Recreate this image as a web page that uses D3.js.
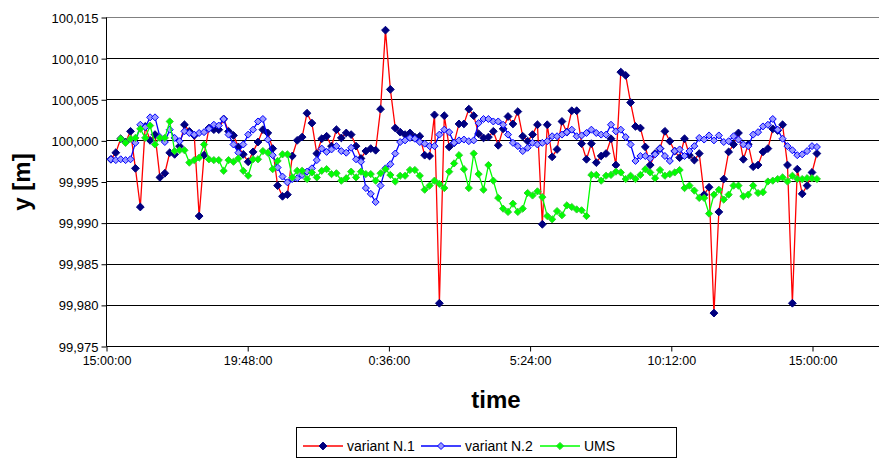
<!DOCTYPE html>
<html>
<head>
<meta charset="utf-8">
<script src="https://cdn.jsdelivr.net/npm/d3@7"></script>
<style>
  html, body { margin: 0; padding: 0; background: #fff; }
  svg { display: block; font-family: Arial, "Liberation Sans", sans-serif; }
</style>
</head>
<body>
<div id="chart"></div>
<script>
// Sampling: one reading every 10 minutes, starting 15:10
const SAMPLE_START = '15:10';
const SAMPLE_STEP_MIN = 10;

const Y_TICKS = [99.975, 99.980, 99.985, 99.990, 99.995, 100.000, 100.005, 100.010, 100.015];
const X_TICK_LABELS = ['15:00:00', '19:48:00', '0:36:00', '5:24:00', '10:12:00', '15:00:00'];

const variantN1 = [
  99.9977, 99.9985, 100.0002, 99.9998, 100.0011, 99.9966, 99.9919, 100.0017, 100.0000, 100.0007,
  99.9955, 99.9960, 99.9985, 99.9983, 99.9993, 100.0019, 100.0011, 100.0006, 99.9908, 99.9982,
  100.0015, 100.0013, 100.0013, 100.0026, 100.0011, 100.0006, 99.9992, 99.9983, 99.9974, 99.9986,
  99.9998, 100.0013, 100.0009, 99.9990, 99.9945, 99.9932, 99.9934, 99.9981, 100.0000, 100.0004,
  100.0033, 100.0021, 99.9984, 100.0002, 100.0005, 99.9993, 100.0013, 100.0003, 100.0009, 100.0007,
  99.9993, 99.9978, 99.9987, 99.9990, 99.9988, 100.0038, 100.0134, 100.0062, 100.0015, 100.0010,
  100.0007, 100.0009, 100.0004, 100.0005, 99.9982, 99.9981, 100.0031, 99.9802, 100.0030, 99.9992,
  99.9997, 100.0020, 100.0020, 100.0038, 100.0030, 100.0008, 100.0003, 100.0004, 100.0011, 99.9994,
  100.0014, 100.0029, 100.0020, 100.0035, 100.0005, 99.9999, 100.0007, 100.0019, 99.9898, 100.0019,
  99.9980, 99.9989, 100.0023, 100.0010, 100.0036, 100.0036, 99.9996, 99.9977, 99.9996, 99.9973,
  99.9981, 99.9984, 100.0002, 99.9970, 100.0083, 100.0079, 100.0046, 100.0017, 100.0015, 99.9992,
  99.9970, 99.9984, 99.9990, 100.0011, 99.9999, 99.9987, 99.9979, 100.0002, 99.9982, 99.9976,
  99.9984, 99.9934, 99.9943, 99.9790, 99.9913, 99.9953, 99.9986, 99.9995, 100.0009, 99.9977,
  99.9995, 99.9968, 99.9970, 99.9986, 99.9990, 100.0014, 100.0012, 100.0019, 99.9970, 99.9802,
  99.9965, 99.9935, 99.9945, 99.9961, 99.9984
];

const variantN2 = [
  99.9977, 99.9976, 99.9977, 99.9976, 99.9977, 99.9997, 100.0019, 100.0016, 100.0028, 100.0028,
  100.0004, 99.9998, 100.0013, 100.0003, 99.9999, 100.0011, 100.0009, 100.0007, 100.0009, 100.0010,
  100.0014, 100.0019, 100.0018, 100.0026, 100.0007, 99.9995, 99.9985, 99.9995, 100.0007, 100.0013,
  100.0023, 100.0026, 100.0001, 99.9982, 99.9967, 99.9956, 99.9949, 99.9953, 99.9954, 99.9958,
  99.9962, 99.9966, 99.9976, 99.9990, 99.9986, 99.9989, 99.9993, 99.9987, 99.9985, 99.9991,
  99.9977, 99.9974, 99.9942, 99.9935, 99.9925, 99.9945, 99.9966, 99.9971, 99.9984, 99.9998,
  100.0000, 100.0003, 100.0002, 99.9998, 99.9996, 99.9993, 99.9993, 100.0007, 100.0013, 100.0010,
  99.9997, 100.0000, 100.0001, 99.9999, 100.0000, 100.0021, 100.0026, 100.0026, 100.0023, 100.0023,
  100.0019, 100.0007, 99.9997, 99.9993, 99.9987, 99.9991, 99.9997, 99.9995, 99.9997, 99.9999,
  100.0005, 100.0005, 100.0007, 100.0010, 100.0013, 100.0005, 100.0006, 100.0009, 100.0013, 100.0009,
  100.0007, 100.0007, 100.0019, 100.0011, 100.0013, 100.0004, 99.9995, 99.9975, 99.9981, 99.9981,
  99.9978, 99.9983, 99.9990, 99.9981, 99.9975, 99.9987, 99.9989, 99.9981, 99.9987, 99.9993,
  100.0003, 100.0001, 100.0006, 100.0000, 100.0006, 99.9998, 99.9999, 100.0005, 100.0001, 99.9995,
  99.9993, 100.0007, 100.0010, 100.0017, 100.0019, 100.0026, 100.0013, 100.0002, 99.9993, 99.9988,
  99.9982, 99.9983, 99.9987, 99.9993, 99.9992
];

const ums = [
  null, null, 100.0002, 99.9997, 100.0002, 100.0003, 100.0014, 100.0003, 100.0018, 99.9995,
  100.0003, 100.0003, 100.0023, 99.9987, 99.9988, 99.9988, 99.9973, 99.9976, 99.9979, 99.9995,
  99.9977, 99.9976, 99.9976, 99.9963, 99.9976, 99.9974, 99.9978, 99.9963, 99.9957, 99.9977,
  99.9977, 99.9987, 99.9985, 99.9965, 99.9975, 99.9983, 99.9983, 99.9955, 99.9963, 99.9963,
  99.9953, 99.9961, 99.9955, 99.9963, 99.9965, 99.9959, 99.9960, 99.9951, 99.9954, 99.9962,
  99.9955, 99.9962, 99.9959, 99.9959, 99.9951, 99.9960, 99.9965, 99.9958, 99.9950, 99.9957,
  99.9957, 99.9964, 99.9964, 99.9957, 99.9940, 99.9945, 99.9951, 99.9947, 99.9942, 99.9962,
  99.9972, 99.9982, 99.9965, 99.9942, 99.9984, 99.9959, 99.9940, 99.9970, 99.9951, 99.9930,
  99.9917, 99.9913, 99.9923, 99.9913, 99.9917, 99.9936, 99.9933, 99.9938, 99.9931, 99.9908,
  99.9904, 99.9914, 99.9909, 99.9921, 99.9919, 99.9916, 99.9915, 99.9908, 99.9958, 99.9958,
  99.9951, 99.9957, 99.9958, 99.9962, 99.9961, 99.9953, 99.9957, 99.9953, 99.9958, 99.9965,
  99.9961, 99.9954, 99.9964, 99.9957, 99.9959, 99.9961, 99.9964, 99.9942, 99.9945, 99.9939,
  99.9930, 99.9930, 99.9911, 99.9934, 99.9940, 99.9928, 99.9934, 99.9945, 99.9945, 99.9932,
  99.9934, 99.9945, 99.9936, 99.9937, 99.9950, 99.9951, 99.9953, 99.9955, 99.9950, 99.9957,
  99.9953, 99.9953, 99.9954, 99.9954, 99.9953
];

const SERIES = [
  { name: 'variant N.1', values: variantN1, line: '#ff0000', fill: '#000080', stroke: '#000080', r: 3.9 },
  { name: 'variant N.2', values: variantN2, line: '#0000ff', fill: '#9999ff', stroke: '#0000ff', r: 3.5 },
  { name: 'UMS', values: ums, line: '#00ff00', fill: '#00ff00', stroke: '#33cc33', r: 3.6 }
];

const width = 879;
const height = 458;
const plot = { left: 106, top: 17, bottom: 346, right: 879 };

// Time helpers (day 0 starts at 15:00)
const base = new Date(2000, 0, 1, 15, 0, 0);
const addMin = (d, m) => new Date(d.getTime() + m * 60000);
const [sh, sm] = SAMPLE_START.split(':').map(Number);
const firstSample = new Date(2000, 0, 1, sh, sm, 0);

const tickDates = X_TICK_LABELS.map((_, i) => addMin(base, i * 288));

const x = d3.scaleTime()
  .domain([base, addMin(base, 1.1 * 1440)])
  .range([plot.left, plot.left + 141.2 * 5.5]);

const y = d3.scaleLinear()
  .domain([Y_TICKS[0], Y_TICKS[Y_TICKS.length - 1]])
  .range([plot.bottom, plot.top]);

const svg = d3.select('#chart')
  .append('svg')
  .attr('width', width)
  .attr('height', height);

// Horizontal grid lines
svg.append('g')
  .selectAll('line')
  .data(Y_TICKS.slice(1))
  .join('line')
  .attr('x1', plot.left)
  .attr('x2', plot.right)
  .attr('y1', d => Math.round(y(d)) + 0.5)
  .attr('y2', d => Math.round(y(d)) + 0.5)
  .attr('stroke', d => d === 100.015 ? '#808080' : '#000')
  .attr('stroke-width', 1);

// Y axis
const yAxis = d3.axisLeft(y)
  .tickValues(Y_TICKS)
  .tickSize(5)
  .tickFormat(d => d3.format('.3f')(d).replace('.', ','));

const gy = svg.append('g')
  .attr('transform', `translate(${plot.left + 0.5},0.5)`)
  .call(yAxis);
gy.select('.domain').attr('stroke', '#000').attr('d', `M0,${plot.top}V${plot.bottom}`);
gy.selectAll('text').attr('font-size', '13px').attr('fill', '#000').attr('x', -8).attr('dy', '0.35em');

// X axis
const xAxis = d3.axisBottom(x)
  .tickValues(tickDates)
  .tickSize(5)
  .tickFormat((d, i) => X_TICK_LABELS[i]);

const gx = svg.append('g')
  .attr('transform', `translate(0.5,${plot.bottom + 0.5})`)
  .call(xAxis);
gx.select('.domain').attr('stroke', '#000').attr('d', `M${plot.left},0H${plot.right}`);
gx.selectAll('text').attr('font-size', '12.5px').attr('fill', '#000').attr('y', 10);

// Series
const diamond = r => `M0,${-r}L${r},0L0,${r}L${-r},0Z`;

SERIES.forEach(s => {
  const pts = s.values.map((v, i) => ({ t: addMin(firstSample, i * SAMPLE_STEP_MIN), v }));

  const line = d3.line()
    .defined(d => d.v !== null)
    .x(d => x(d.t))
    .y(d => y(d.v));

  svg.append('path')
    .datum(pts)
    .attr('fill', 'none')
    .attr('stroke', s.line)
    .attr('stroke-width', 1.3)
    .attr('d', line);

  svg.append('g')
    .selectAll('path')
    .data(pts.filter(d => d.v !== null))
    .join('path')
    .attr('transform', d => `translate(${x(d.t)},${y(d.v)})`)
    .attr('d', diamond(s.r))
    .attr('fill', s.fill)
    .attr('stroke', s.stroke)
    .attr('stroke-width', 1);
});

// Axis titles
svg.append('text')
  .attr('x', 496)
  .attr('y', 408)
  .attr('text-anchor', 'middle')
  .attr('font-size', '24px')
  .attr('font-weight', 'bold')
  .text('time');

svg.append('text')
  .attr('transform', 'translate(30,182) rotate(-90)')
  .attr('text-anchor', 'middle')
  .attr('font-size', '24px')
  .attr('font-weight', 'bold')
  .text('y [m]');

// Legend
const legend = svg.append('g');
legend.append('rect')
  .attr('x', 296.5)
  .attr('y', 427.5)
  .attr('width', 380)
  .attr('height', 30)
  .attr('fill', '#fff')
  .attr('stroke', '#000');

const legendX = [303, 421, 540];
SERIES.forEach((s, i) => {
  const lx = legendX[i];
  const ly = 446;
  legend.append('line')
    .attr('x1', lx).attr('x2', lx + 40)
    .attr('y1', ly).attr('y2', ly)
    .attr('stroke', s.line)
    .attr('stroke-width', 1.3);
  legend.append('path')
    .attr('transform', `translate(${lx + 20},${ly})`)
    .attr('d', diamond(s.r))
    .attr('fill', s.fill)
    .attr('stroke', s.stroke);
  legend.append('text')
    .attr('x', lx + 44)
    .attr('y', ly + 5)
    .attr('font-size', '14px')
    .text(s.name);
});
</script>
</body>
</html>
